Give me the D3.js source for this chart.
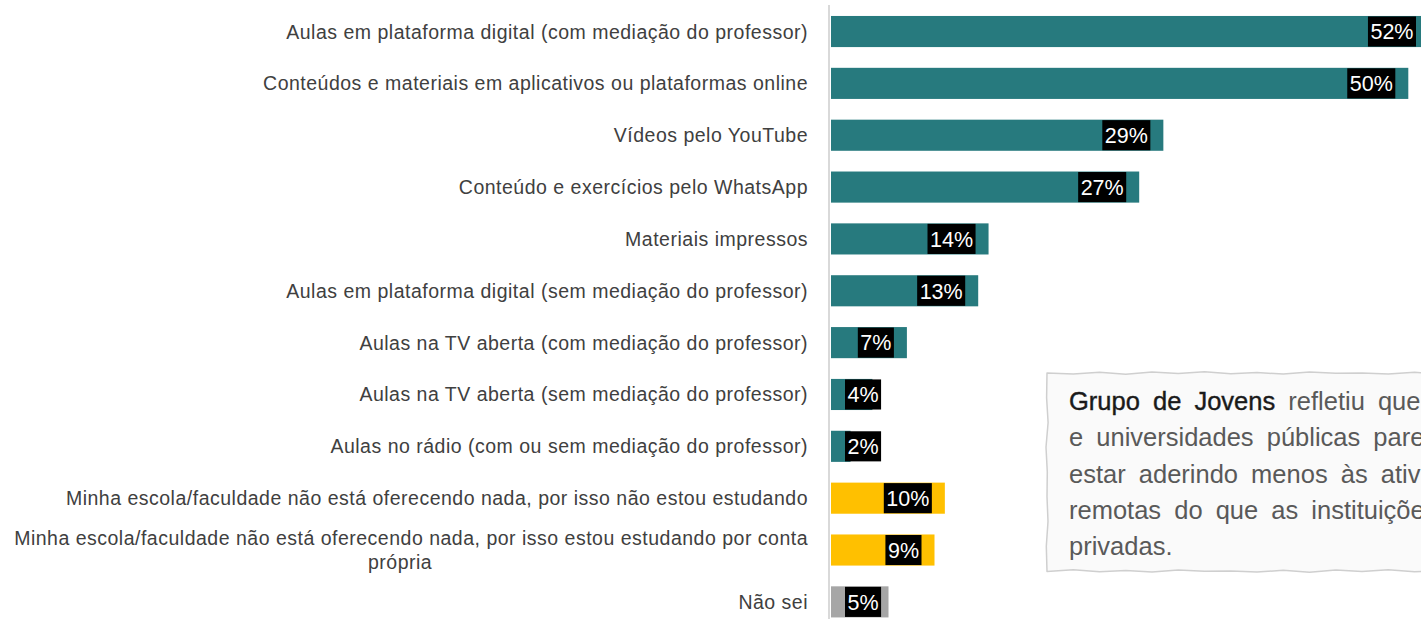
<!DOCTYPE html>
<html>
<head>
<meta charset="utf-8">
<script src="https://cdn.jsdelivr.net/npm/d3@7"></script>
<style>
  html, body { margin: 0; padding: 0; background: #ffffff; overflow: hidden; }
  svg { display: block; }
</style>
</head>
<body>
<svg id="chart" width="1421" height="619"></svg>
<script>
// ---- data ----
const categories = [
  "Aulas em plataforma digital (com mediação do professor)",
  "Conteúdos e materiais em aplicativos ou plataformas online",
  "Vídeos pelo YouTube",
  "Conteúdo e exercícios pelo WhatsApp",
  "Materiais impressos",
  "Aulas em plataforma digital (sem mediação do professor)",
  "Aulas na TV aberta (com mediação do professor)",
  "Aulas na TV aberta (sem mediação do professor)",
  "Aulas no rádio (com ou sem mediação do professor)",
  "Minha escola/faculdade não está oferecendo nada, por isso não estou estudando",
  "Minha escola/faculdade não está oferecendo nada, por isso estou estudando por conta própria",
  "Não sei"
];
const labelLines = [
  ["Aulas em plataforma digital (com mediação do professor)"],
  ["Conteúdos e materiais em aplicativos ou plataformas online"],
  ["Vídeos pelo YouTube"],
  ["Conteúdo e exercícios pelo WhatsApp"],
  ["Materiais impressos"],
  ["Aulas em plataforma digital (sem mediação do professor)"],
  ["Aulas na TV aberta (com mediação do professor)"],
  ["Aulas na TV aberta (sem mediação do professor)"],
  ["Aulas no rádio (com ou sem mediação do professor)"],
  ["Minha escola/faculdade não está oferecendo nada, por isso não estou estudando"],
  ["Minha escola/faculdade não está oferecendo nada, por isso estou estudando por conta", "própria"],
  ["Não sei"]
];
const values = [52.0, 50.2, 28.9, 26.8, 13.7, 12.8, 6.6, 3.6, 1.7, 9.9, 9.0, 5.0];
const groups = ["remoto","remoto","remoto","remoto","remoto","remoto","remoto","remoto","remoto","nada","nada","naosei"];
const noteLines = [
  [{t: "Grupo de Jovens", strong: true}, {t: " refletiu que as escolas"}],
  [{t: "e universidades públicas parecem"}],
  [{t: "estar aderindo menos às atividades"}],
  [{t: "remotas do que as instituições"}],
  [{t: "privadas."}]
];

// ---- layout ----
const svg = d3.select("#chart");
const x0 = 831;
const x = d3.scaleLinear().domain([0, 100]).range([x0, x0 + 1150]);
const y = d3.scaleBand().domain(categories).range([5.6, 627.8]).paddingInner(0.4).paddingOuter(0.2);
const color = d3.scaleOrdinal().domain(["remoto","nada","naosei"]).range(["#277a7e", "#ffc000", "#a6a6a6"]);
const fmt = v => d3.format(".0f")(v) + "%";

const data = categories.map((c, i) => ({c, v: values[i], g: groups[i], lines: labelLines[i]}));

// axis line
svg.append("line")
  .attr("x1", 829).attr("x2", 829)
  .attr("y1", 5).attr("y2", 619)
  .attr("stroke", "#d9d9d9").attr("stroke-width", 2);

// bars
svg.append("g").selectAll("rect").data(data).join("rect")
  .attr("x", x(0))
  .attr("y", d => y(d.c))
  .attr("width", d => x(d.v) - x(0))
  .attr("height", y.bandwidth())
  .attr("fill", d => color(d.g));

// category labels
const labelRight = 808;
const lg = svg.append("g")
  .attr("font-family", "'Liberation Sans', Arial, sans-serif")
  .attr("font-size", 19.5)
  .attr("letter-spacing", 0.5)
  .attr("fill", "#404040");
data.forEach(d => {
  const cy = y(d.c) + y.bandwidth() / 2;
  if (d.lines.length === 1) {
    lg.append("text").attr("x", labelRight).attr("y", cy + 7).attr("text-anchor", "end").text(d.lines[0]);
  } else {
    const t1 = lg.append("text").attr("x", labelRight).attr("y", cy - 5).attr("text-anchor", "end").text(d.lines[0]);
    const w = t1.node().getComputedTextLength();
    lg.append("text").attr("x", labelRight - w / 2 - 11).attr("y", cy + 19).attr("text-anchor", "middle").text(d.lines[1]);
  }
});

// value labels (black boxes)
const vg = svg.append("g");
data.forEach(d => {
  const cy = y(d.c) + y.bandwidth() / 2;
  const t = vg.append("text")
    .attr("font-family", "'Liberation Sans', Arial, sans-serif")
    .attr("font-size", 21.5)
    .attr("fill", "#ffffff")
    .attr("text-anchor", "middle")
    .text(fmt(d.v));
  const tw = t.node().getComputedTextLength();
  const bw = tw + 5;
  let right = x(d.v) - 13;
  let left = right - bw;
  if (left < x(0) + 14) { left = x(0) + 14; right = left + bw; }
  vg.insert("rect", "text")
    .attr("x", left).attr("y", y(d.c) + 0.5)
    .attr("width", bw).attr("height", y.bandwidth() - 1)
    .attr("fill", "#000000");
  t.attr("x", left + bw / 2).attr("y", cy + 7.8);
});

// annotation note with hand-drawn style border
const bx = 1047, by = 373, bw2 = 420, bh = 198;
const wob = [0, 1.0, -0.7, 1.3, -0.9, 0.5, -1.2, 0.8, -0.4, 1.1, -1.0, 0.3];
const pts = [];
const nTop = 16;
for (let i = 0; i <= nTop; i++) pts.push([bx + bw2 * i / nTop, by + wob[i % wob.length]]);
const nSide = 8;
for (let i = 1; i <= nSide; i++) pts.push([bx + bw2 + wob[(i + 3) % wob.length], by + bh * i / nSide]);
for (let i = nTop - 1; i >= 0; i--) pts.push([bx + bw2 * i / nTop, by + bh + wob[(i + 5) % wob.length]]);
for (let i = nSide - 1; i >= 1; i--) pts.push([bx + wob[(i + 7) % wob.length], by + bh * i / nSide]);
svg.append("path")
  .attr("d", d3.line().curve(d3.curveLinearClosed)(pts))
  .attr("fill", "#fafafa")
  .attr("stroke", "#cfcfcf")
  .attr("stroke-width", 1.5)
  .attr("stroke-linejoin", "round");

const ng = svg.append("g")
  .attr("font-family", "'Liberation Sans', Arial, sans-serif")
  .attr("font-size", 25.5)
  .attr("word-spacing", 6);
noteLines.forEach((line, i) => {
  const t = ng.append("text").attr("x", 1069).attr("y", 410 + i * 36.3);
  line.forEach(seg => {
    const s = t.append("tspan")
      .attr("fill", seg.strong ? "#1a1a1a" : "#595959")
      .text(seg.t);
    if (seg.strong) s.attr("stroke", "#1a1a1a").attr("stroke-width", 0.4);
  });
});
</script>
</body>
</html>
